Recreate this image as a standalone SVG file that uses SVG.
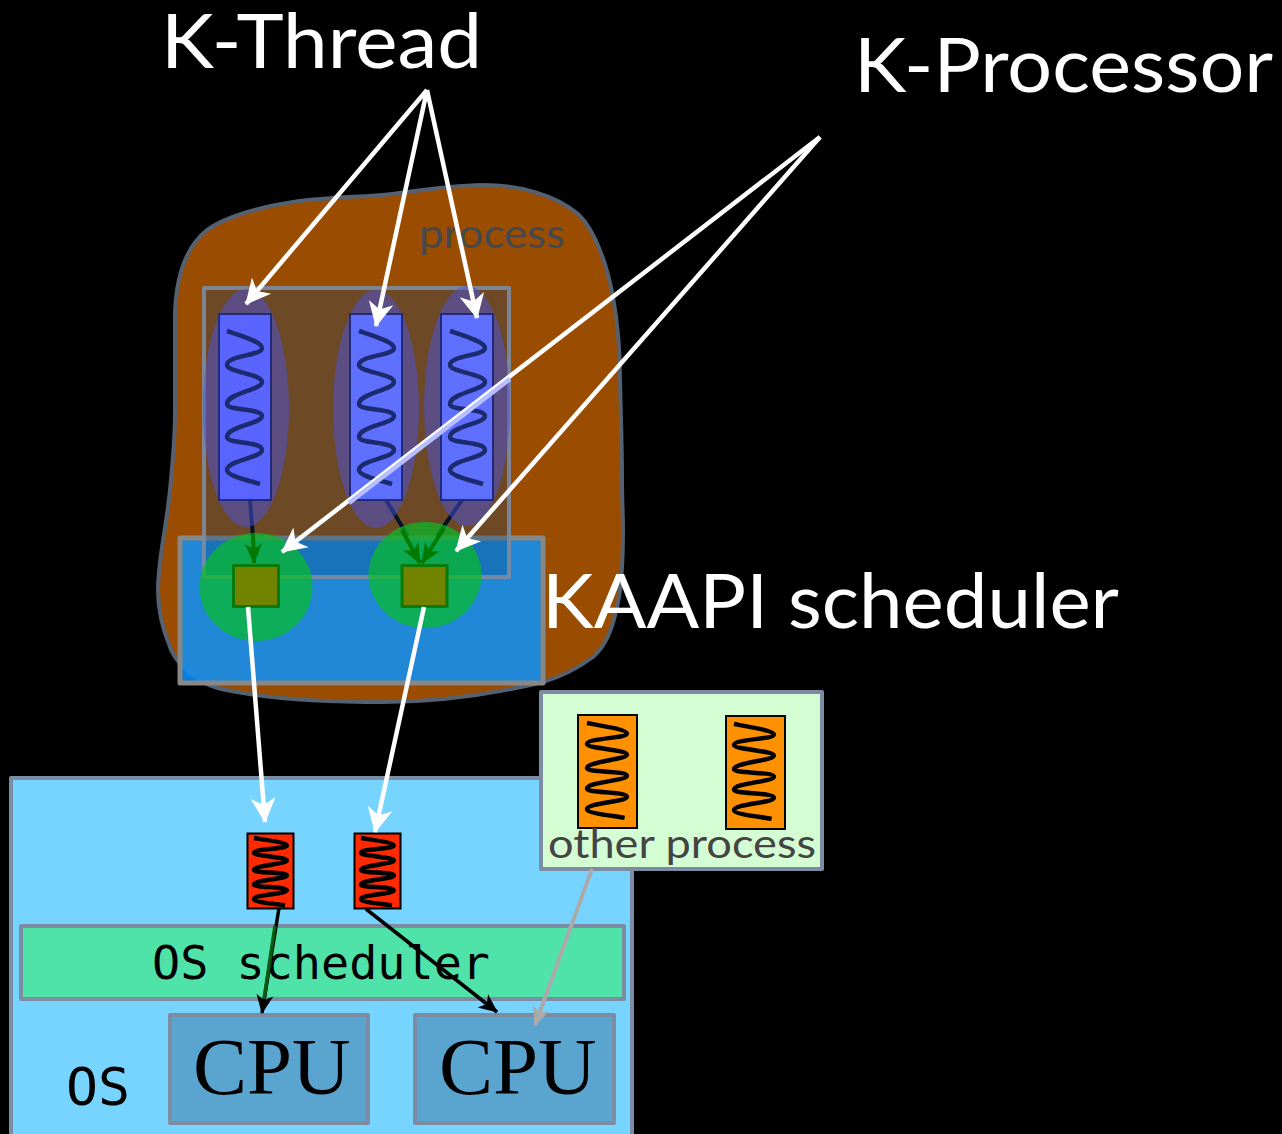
<svg xmlns="http://www.w3.org/2000/svg" xmlns:xlink="http://www.w3.org/1999/xlink" width="1282" height="1134" viewBox="0 0 1282 1134">
<style>
.title{font-family:"Lato","Noto Sans",sans-serif;fill:#fff;font-size:76px}
.lbl{font-family:"Lato","Noto Sans",sans-serif;font-size:41px}
.mono{font-family:"DejaVu Sans Mono","Liberation Mono",monospace;fill:#000}
.cpu{font-family:"Liberation Serif",serif;font-size:81px;fill:#000}
.box{stroke:#7c8ca2;stroke-width:4;stroke-linejoin:round}
.thr{fill:#5a64ff;stroke:#1f2a7a;stroke-width:2}
.sq{fill:none;stroke-width:4.500;stroke-linecap:butt;stroke-linejoin:round}
.sqb{stroke:#1c2a70}
.sqk{stroke:#000}
.aura{fill:#4a52e0;fill-opacity:.5}
.kp{fill:rgb(5,190,35);fill-opacity:.7}
.core{fill:#728300;stroke:#0a7a0a;stroke-width:3}
.w{stroke:#fff;stroke-width:4.500;fill:none;marker-end:url(#wa)}
.d{stroke:#000;stroke-width:4;fill:none}
.dg{marker-end:url(#ga)}
.dk{stroke-width:3.500;marker-end:url(#ka)}
.gr{stroke:#aaa;stroke-width:4;fill:none;marker-end:url(#ya)}
</style>
<defs>
<marker id="wa" markerUnits="userSpaceOnUse" markerWidth="32" markerHeight="32" viewBox="-6 -16 32 32" refX="21" refY="0" orient="auto"><path d="M22 0 L-3 -12.500 L4 0 L-3 12.500 Z" fill="#fff"/></marker>
<marker id="ga" markerUnits="userSpaceOnUse" markerWidth="24" markerHeight="24" viewBox="-3 -12 24 24" refX="17" refY="0" orient="auto"><path d="M18 0 L-2 -8.500 L3 0 L-2 8.500 Z" fill="#007a00"/></marker>
<marker id="ka" markerUnits="userSpaceOnUse" markerWidth="24" markerHeight="24" viewBox="-4 -12 24 24" refX="15" refY="0" orient="auto"><path d="M16 0 L-3 -8.500 L2 0 L-3 8.500 Z" fill="#000"/></marker>
<marker id="ya" markerUnits="userSpaceOnUse" markerWidth="24" markerHeight="24" viewBox="-4 -12 24 24" refX="15" refY="0" orient="auto"><path d="M16 0 L-3 -8.500 L2 0 L-3 8.500 Z" fill="#aaa"/></marker>
<path id="squig" vector-effect="non-scaling-stroke" d="M0 0 C15 5 35 11 35 17 C35 25 0 24 0 34 C0 41 35 43 35 51 C35 59 0 62 0 73 C0 80 35 77 35 85 C35 93 0 95 0 106 C0 113 35 110 35 119 C35 127 0 129 0 139 C0 145 20 149 33 153"/>
</defs>
<rect width="1282" height="1134" fill="#000"/>

<g id="process">
<path d="M175 313 C176 285 182 250 207 230 C225 217 260 207 293 202 C330 197 360 197 383 195 C405 193 440 186 483 185 C520 185 555 195 578 214 C597 232 608 270 613 297 C619 330 620 355 620 380 C621 420 622 450 622 480 C622 500 623 515 623 530 C623 560 622 585 617 607 C612 630 606 645 593 657 C578 668 560 677 543 682 C490 695 435 702 383 702 C330 702 285 700 243 693 C225 690 212 688 200 680 C187 672 175 660 170 647 C163 630 158 612 158 590 C158 560 166 530 170 490 C173 460 175 440 175 413 C175 380 175 345 175 313 Z" fill="#9a4d00" stroke="#556070" stroke-width="4"/>
<text class="lbl" x="419" y="248" fill="#45494f" textLength="146" lengthAdjust="spacingAndGlyphs">process</text>
</g>

<g id="os">
<rect class="box" x="11" y="778" width="621" height="370" fill="#77d4ff"/>
<text class="mono" x="66" y="1105" font-size="52" textLength="64" lengthAdjust="spacingAndGlyphs">OS</text>
</g>

<g id="connectors-under">
<path class="d" d="M250 500 L254 550"/>
<path class="d" d="M386 500 L418 553"/>
<path class="d" d="M462 500 L425 553"/>
</g>

<g id="scheduler">
<rect x="180" y="538" width="363" height="145" fill="rgba(12,145,250,.86)" stroke="#888" stroke-width="5" stroke-linejoin="round"/>
</g>
<g id="thread-box">
<rect x="204" y="288" width="305" height="289" fill="rgba(10,67,123,.3)" stroke="#7c8ca2" stroke-opacity=".9" stroke-width="4" stroke-linejoin="round"/>
</g>

<g id="kthread-1">
<ellipse class="aura" cx="246" cy="408" rx="43" ry="119"/>
<rect class="thr" x="219" y="314" width="52" height="186"/>
<use href="#squig" class="sq sqb" transform="translate(227 331)"/>
</g>
<g id="kthread-2">
<ellipse class="aura" cx="376" cy="409" rx="43" ry="119"/>
<rect class="thr" x="350" y="314" width="52" height="186" style="fill:#5f70ff"/>
<use href="#squig" class="sq sqb" transform="translate(359 331)"/>
</g>
<g id="kthread-3">
<ellipse class="aura" cx="467" cy="406" rx="43" ry="120"/>
<rect class="thr" x="441" y="314" width="52" height="186" style="fill:#5f70ff"/>
<use href="#squig" class="sq sqb" transform="translate(450 331)"/>
</g>

<g id="kprocessor-1">
<ellipse class="kp" cx="256" cy="587" rx="56.500" ry="54"/>
<rect class="core" x="233.500" y="565.500" width="45" height="41"/>
</g>
<g id="kprocessor-2">
<ellipse class="kp" cx="425" cy="575" rx="56.500" ry="53"/>
<rect class="core" x="402" y="565.500" width="45" height="41"/>
</g>
<g id="connectors-green">
<path d="M253 534 L254 563" class="d dg" style="stroke:#007a00"/>
<path d="M402 530 L420 563" class="d dg" style="stroke:#007a00"/>
<path d="M444 528 L422 563" class="d dg" style="stroke:#007a00"/>
</g>

<g id="other-process">
<rect class="box" x="541" y="692" width="281" height="177" fill="#d4fdd4"/>
<rect x="578" y="715" width="59" height="113" fill="#ff9000" stroke="#000" stroke-width="2"/>
<use href="#squig" class="sq sqk" transform="translate(587 723) scale(1.14 .62)"/>
<rect x="726" y="716" width="59" height="113" fill="#ff9000" stroke="#000" stroke-width="2"/>
<use href="#squig" class="sq sqk" transform="translate(734 724) scale(1.14 .62)"/>
<text class="lbl" x="548" y="858" fill="#444" textLength="268" lengthAdjust="spacingAndGlyphs">other process</text>
</g>

<g id="os-scheduler">
<rect class="box" x="21" y="926" width="603" height="73" fill="#4fe3aa"/>
<text class="mono" x="152" y="979" font-size="46" textLength="338" lengthAdjust="spacingAndGlyphs">OS scheduler</text>
</g>
<g id="cpu-1">
<rect class="box" x="170" y="1015" width="198" height="108" fill="#5aa5cf"/>
<text class="cpu" x="193" y="1094">CPU</text>
</g>
<g id="cpu-2">
<rect class="box" x="415" y="1015" width="199" height="108" fill="#5aa5cf"/>
<text class="cpu" x="439" y="1094">CPU</text>
</g>
<g id="thread-red-1">
<rect x="247.500" y="833.500" width="46" height="75" fill="#ff2a00" stroke="#000" stroke-width="2"/>
<use href="#squig" class="sq sqk" transform="translate(254 838) scale(.94 .44)"/>
</g>
<g id="thread-red-2">
<rect x="354.500" y="833.500" width="46" height="75" fill="#ff2a00" stroke="#000" stroke-width="2"/>
<use href="#squig" class="sq sqk" transform="translate(361 838) scale(.94 .44)"/>
</g>

<g id="labels">
<text class="title" x="161" y="68" textLength="321" lengthAdjust="spacingAndGlyphs">K-Thread</text>
<text class="title" x="854" y="92" textLength="419" lengthAdjust="spacingAndGlyphs">K-Processor</text>
<text class="title" x="542" y="628" textLength="577" lengthAdjust="spacingAndGlyphs">KAAPI scheduler</text>
</g>

<g id="connectors">
<path class="w" d="M427 90 L246 304"/>
<path class="w" d="M427 90 L376 326"/>
<path class="w" d="M427 90 L477 318"/>
<path class="w" d="M820 137 L282 552"/>
<path d="M510 379 L349 503" stroke="#b6beff" stroke-width="4.500" fill="none"/>
<path class="w" d="M820 137 L456 551"/>
<path class="w" d="M248 607 L265 822"/>
<path class="w" d="M424 607 L375 832"/>
<path class="d dk" d="M279 908 L262 1013"/>
<path d="M275 926 L264 999" stroke="#0a5a14" stroke-width="3.500" fill="none"/>
<path class="d dk" d="M366 909 L497 1012"/>
<path class="gr" d="M592 869 L535 1025"/>
</g>
</svg>
